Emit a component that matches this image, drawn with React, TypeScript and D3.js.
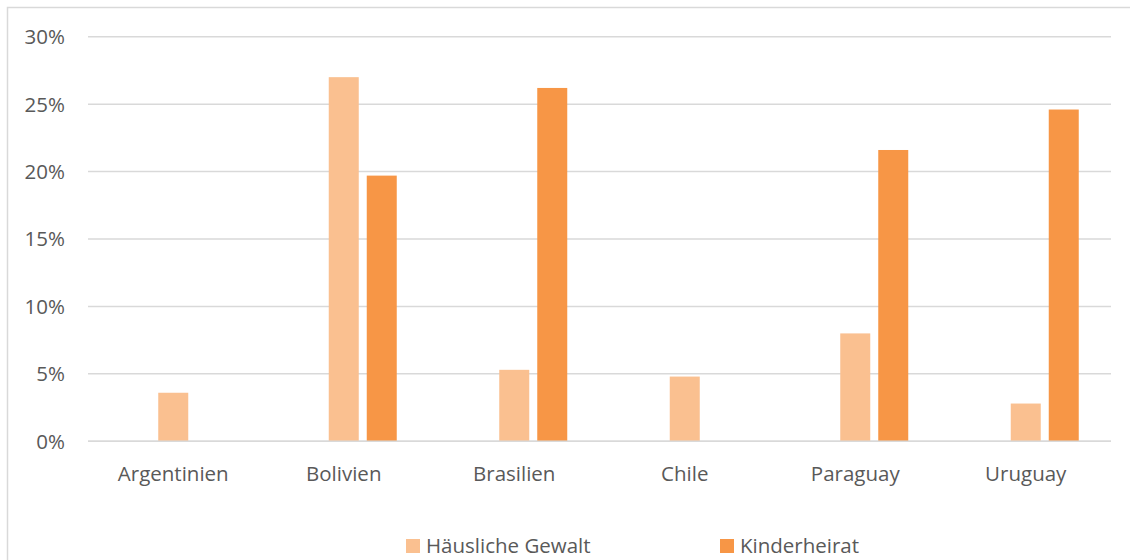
import React from 'react'
import * as d3 from 'd3'

// --- data ---
const countries = ['Argentinien', 'Bolivien', 'Brasilien', 'Chile', 'Paraguay', 'Uruguay']
const seriesNames = ['Häusliche Gewalt', 'Kinderheirat']
const haeuslicheGewalt = [0.036, 0.27, 0.053, 0.048, 0.08, 0.028]
const kinderheirat = [null, 0.197, 0.262, null, 0.216, 0.246]
const yTicks = [0, 0.05, 0.1, 0.15, 0.2, 0.25, 0.3]
const seriesColors = ['#FAC090', '#F79646']

// Excel clustered layout keeps an empty leading slot, so the first series sits on the category centre
const slots = ['_leer', ...seriesNames]

const W = 1130
const H = 560
const plot = { left: 88, right: 1111, top: 36.7, bottom: 441.3 }
const font = '"Open Sans", "Segoe UI", sans-serif'
const fontSize = 20.5
const textColor = '#595959'
const gridColor = '#D9D9D9'

export default function App() {
  const x = d3.scaleBand<string>().domain(countries).range([plot.left, plot.right]).padding(0)
  const bw = x.bandwidth()
  const groupWidth = 106
  const xInner = d3.scaleBand<string>()
    .domain(slots)
    .range([bw / 2 - groupWidth / 2, bw / 2 + groupWidth / 2])
    .paddingInner(8 / 38)
    .paddingOuter(0)
  const y = d3.scaleLinear().domain([0, 0.3]).range([plot.bottom, plot.top])
  const fmt = d3.format('.0%')

  const series = [haeuslicheGewalt, kinderheirat]

  const legendItems = [
    { name: seriesNames[0], color: seriesColors[0], x: 406 },
    { name: seriesNames[1], color: seriesColors[1], x: 720 },
  ]

  return (
    <div style={{ position: 'absolute', left: 0, top: 0 }}>
      <svg width={W} height={H} style={{ display: 'block', background: '#fff' }}>
        {/* chart border */}
        <rect x={7.5} y={7.5} width={W + 20} height={H + 20} fill="#fff" stroke={gridColor} strokeWidth={1.5} />

        {/* gridlines + y labels */}
        {yTicks.map(t => (
          <g key={t}>
            <line x1={plot.left} x2={plot.right} y1={y(t)} y2={y(t)} stroke={gridColor} strokeWidth={1.5} />
            <text
              x={65}
              y={y(t)}
              dy="0.36em"
              textAnchor="end"
              fontFamily={font}
              fontSize={fontSize}
              fill={textColor}
            >
              {fmt(t)}
            </text>
          </g>
        ))}

        {/* bars */}
        {series.map((vals, si) => (
          <g key={seriesNames[si]}>
            {countries.map((c, ci) => {
              const v = vals[ci]
              if (v == null) return null
              return (
                <rect
                  key={c}
                  x={(x(c) as number) + (xInner(seriesNames[si]) as number)}
                  y={y(v)}
                  width={xInner.bandwidth()}
                  height={y(0) - y(v)}
                  fill={seriesColors[si]}
                />
              )
            })}
          </g>
        ))}

        {/* x axis line */}
        <line x1={plot.left} x2={plot.right} y1={y(0)} y2={y(0)} stroke={gridColor} strokeWidth={1.5} />

        {/* category labels */}
        {countries.map(c => (
          <text
            key={c}
            x={(x(c) as number) + bw / 2}
            y={481}
            textAnchor="middle"
            fontFamily={font}
            fontSize={fontSize}
            fill={textColor}
          >
            {c}
          </text>
        ))}

        {/* legend */}
        {legendItems.map(item => (
          <g key={item.name}>
            <rect x={item.x} y={539} width={14} height={14} fill={item.color} />
            <text x={item.x + 20} y={553} fontFamily={font} fontSize={fontSize} fill={textColor}>
              {item.name}
            </text>
          </g>
        ))}
      </svg>
    </div>
  )
}
